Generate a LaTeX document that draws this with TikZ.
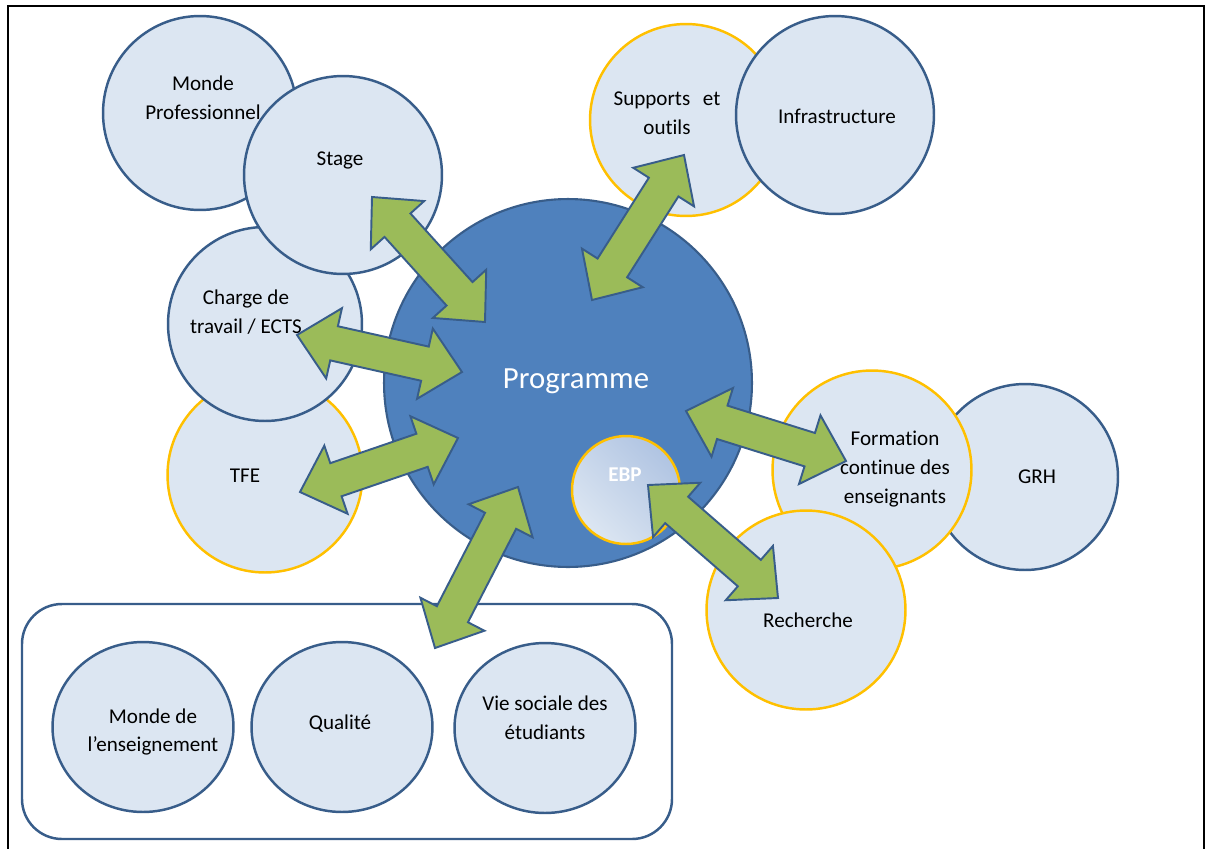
\documentclass[tikz,border=0pt]{standalone}
\usepackage{fontspec}
\setmainfont{Carlito}[Ligatures=NoCommon]
\usepackage{tikz}
\usetikzlibrary{calc,shapes.geometric}

\definecolor{bubblefill}{HTML}{DCE6F2}
\definecolor{bubbleline}{HTML}{385D8A}
\definecolor{progfill}{HTML}{4F81BD}
\definecolor{arrowgreen}{HTML}{9BBB59}
\definecolor{ringgold}{HTML}{FFC000}
\definecolor{ebpdark}{HTML}{B0C4E2}

\newcommand{\headlen}{0.76cm}
\newcommand{\headhalf}{0.72cm}
\newcommand{\shafthalf}{0.35cm}
% block arrow with a head at both ends, tips #1 and #2
\newcommand{\dblarrow}[2]{%
  \coordinate (pa) at ($(#1)!\headlen!(#2)$);
  \coordinate (pb) at ($(#2)!\headlen!(#1)$);
  \filldraw[bigarrow] (#1) -- ($(pa)!\headhalf!90:(#2)$) -- ($(pa)!\shafthalf!90:(#2)$)
    -- ($(pb)!\shafthalf!-90:(#1)$) -- ($(pb)!\headhalf!-90:(#1)$) -- (#2)
    -- ($(pb)!\headhalf!90:(#1)$) -- ($(pb)!\shafthalf!90:(#1)$)
    -- ($(pa)!\shafthalf!-90:(#2)$) -- ($(pa)!\headhalf!-90:(#2)$) -- cycle;}

\begin{document}
\begin{tikzpicture}[x=0.02cm, y=-0.02cm,
    bubble/.style={circle, draw=bubbleline, fill=bubblefill, line width=1.4pt, inner sep=0pt},
    goldbubble/.style={bubble, draw=ringgold},
    flatbubble/.style={ellipse, draw=bubbleline, fill=bubblefill, line width=1.4pt, inner sep=0pt,
      minimum width=3.62cm, minimum height=3.4cm},
    txt/.style={align=center, text=black, inner sep=0pt, font={\fontsize{12}{16.4}\selectfont}},
    bigarrow/.style={fill=arrowgreen, draw=bubbleline, line width=1.1pt, line join=miter}]
        \useasboundingbox (0, 0) rectangle (1208, 849);
        \fill[white] (0, 0) rectangle (1208, 849);
        \draw[line width=1.6pt] (8, 849) -- (8, 6) -- (1204, 6) -- (1204, 849);

        % left group
        \node[bubble, minimum size=3.88cm] (monpro) at (200, 113) {};
        \node[goldbubble, minimum size=3.9cm] (tfe) at (265, 475) {};
        \node[bubble, minimum size=3.88cm] (charge) at (265, 324) {};
        \node[bubble, minimum size=3.96cm] (stage) at (343, 175) {};
        \node[txt] (monprotxt) at (203, 98) {Monde\\Professionnel};
        \node[txt] (tfetxt) at (245, 476) {TFE};
        \node[txt] (chargetxt) at (246, 312) {Charge de\\travail / ECTS};
        \node[txt] (stagetxt) at (340, 160) {Stage};

        % top group
        \node[goldbubble, minimum size=3.84cm] (supports) at (686, 120) {};
        \node[bubble, minimum size=3.96cm] (infra) at (835, 115) {};
        \node[txt] (supportstxt) at (667, 113) {Supports\hspace{0.6em}et\\outils};
        \node[txt] (infratxt) at (837, 116) {Infrastructure};

        % right group
        \node[bubble, minimum size=3.72cm] (grh) at (1025, 477) {};
        \node[goldbubble, minimum size=3.98cm] (formation) at (872, 470) {};
        \node[goldbubble, minimum size=3.98cm] (recherche) at (806, 610) {};
        \node[txt] (grhtxt) at (1037, 477) {GRH};
        \node[txt] (formationtxt) at (895, 469) {Formation\\continue des\\enseignants};
        \node[txt] (recherchetxt) at (808, 620) {Recherche};

        % centre
        \node[circle, draw=bubbleline, fill=progfill, line width=1.2pt, minimum size=7.36cm] (prog) at (568, 383) {};
        \node[txt, text=white, font={\fontsize{17.5}{21}\selectfont}] (progtxt) at (576, 381) {Programme};
        \node[circle, draw=ringgold, line width=1.4pt, minimum size=2.16cm,
          top color=ebpdark, bottom color=bubblefill, shading angle=-45] (ebp) at (626, 490) {};
        \node[txt, text=white, font={\fontsize{12}{14}\selectfont\bfseries}] (ebptxt) at (625, 475) {EBP};

        % bottom box
        \draw[bubbleline, line width=1.4pt, rounded corners=0.8cm] (22, 604) rectangle (672, 839);
        \node[flatbubble] (monens) at (143, 727) {};
        \node[flatbubble] (qualite) at (342, 727) {};
        \node[flatbubble] (vie) at (545, 728) {};
        \node[txt] (monenstxt) at (153, 732) {Monde de\\l’enseignement};
        \node[txt] (qualitetxt) at (340, 724) {Qualité};
        \node[txt] (vietxt) at (545, 718) {Vie sociale des\\étudiants};

        % arrow tips
        \coordinate (stage-end) at (372, 197);
        \coordinate (prog-stage) at (485, 322);
        \coordinate (charge-end) at (297, 335);
        \coordinate (prog-charge) at (462, 372);
        \coordinate (tfe-end) at (300, 492);
        \coordinate (prog-tfe) at (458, 438);
        \coordinate (box-end) at (435, 648);
        \coordinate (prog-box) at (518, 487);
        \coordinate (supports-end) at (684, 155);
        \coordinate (prog-supports) at (592, 300);
        \coordinate (formation-end) at (846, 461);
        \coordinate (prog-formation) at (686, 411);
        \coordinate (recherche-end) at (778, 598);
        \coordinate (ebp-end) at (648, 485);

        \dblarrow{stage-end}{prog-stage}
        \dblarrow{charge-end}{prog-charge}
        \dblarrow{tfe-end}{prog-tfe}
        \dblarrow{box-end}{prog-box}
        \dblarrow{supports-end}{prog-supports}
        \dblarrow{formation-end}{prog-formation}
        \dblarrow{recherche-end}{ebp-end}
\end{tikzpicture}
\end{document}
